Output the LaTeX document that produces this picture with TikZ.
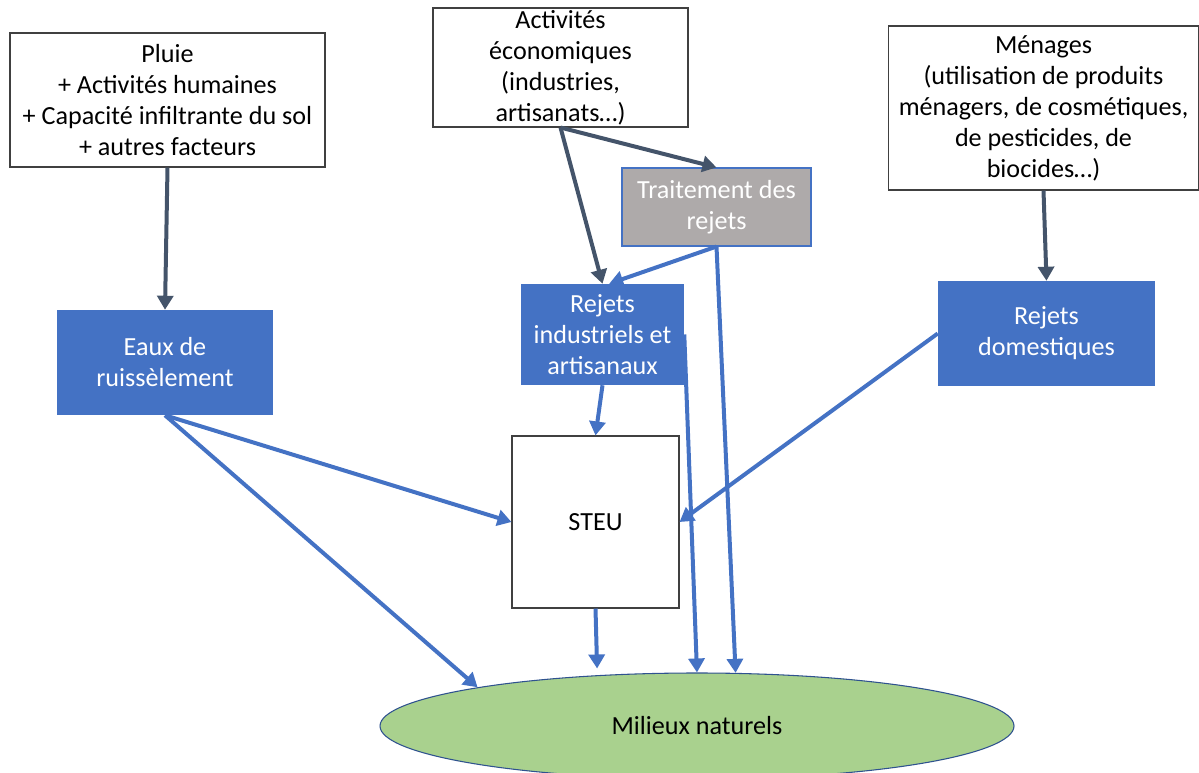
\documentclass[tikz,border=0pt]{standalone}
\usepackage{fontspec}
\setmainfont{Carlito}
\usetikzlibrary{shapes.geometric,arrows.meta}
\definecolor{boxblue}{HTML}{4472C4}
\definecolor{darkarrow}{HTML}{44546A}
\definecolor{graybox}{HTML}{AEAAAA}
\definecolor{greenfill}{HTML}{A9D18E}
\definecolor{edgeblue}{HTML}{2F528F}
\tikzset{
  txt/.style={font=\fontsize{19.6}{23.25}\selectfont, align=center, inner sep=0pt},
  whitebox/.style={txt, draw=black!75, line width=0.8pt, fill=white, rectangle},
  bluebox/.style={txt, fill=boxblue, text=white, rectangle},
  graynode/.style={txt, fill=graybox, draw=boxblue, line width=0.8pt, text=white, rectangle},
  ellnode/.style={txt, ellipse, fill=greenfill, draw=edgeblue, line width=0.8pt},
  darkarr/.style={draw=darkarrow, line width=3pt, -{Triangle[length=10.5pt,width=12pt]}},
  bluearr/.style={draw=boxblue, line width=3pt, -{Triangle[length=10.5pt,width=12pt]}},
}
\begin{document}
\begin{tikzpicture}[x=0.75pt,y=-0.75pt]
\useasboundingbox (0,0) rectangle (1199,773);
\node[whitebox, minimum width=236.25pt, minimum height=100.5pt] (pluie) at (167.5,100)
  {Pluie\\+ Activités humaines\\+ Capacité infiltrante du sol\\+ autres facteurs};
\node[whitebox, minimum width=191.25pt, minimum height=89.25pt] (activ) at (560.5,67.5)
  {Activités\\économiques\\(industries,\\artisanats…)};
\node[whitebox, minimum width=232pt, minimum height=123pt] (menages) at (1043.5,108)
  {Ménages\\(utilisation de produits\\ménagers, de cosmétiques,\\de pesticides, de\\biocides…)};
\node[graynode, minimum width=141.75pt, minimum height=58.5pt] (trait) at (716.5,207)
  {Traitement des\\rejets};
\node[bluebox, minimum width=122.25pt, minimum height=75.75pt] (rind) at (602.5,334.5)
  {Rejets\\industriels et\\artisanaux};
\node[bluebox, minimum width=162pt, minimum height=78.75pt] (eaux) at (165,362.5)
  {Eaux de\\ruissèlement};
\node[bluebox, minimum width=162.75pt, minimum height=78.75pt] (rdom) at (1046.5,333.5)
  {Rejets\\domestiques};
\node[whitebox, minimum width=125.25pt, minimum height=129pt] (steu) at (595.5,522)
  {STEU};
\node[ellnode, minimum width=475.5pt, minimum height=79.5pt] (mil) at (697,726)
  {Milieux naturels};

\draw[darkarr] (pluie.south) -- (eaux.north);
\draw[darkarr] (activ.south) -- (rind.north);
\draw[darkarr] (activ.south) -- (trait.north);
\draw[darkarr] (menages.south) -- (rdom.north);
\draw[bluearr] (trait.south) -- ([xshift=5pt]rind.north);
\draw[bluearr] (trait.south) -- (mil.54);
\draw[bluearr] (rind.east) -- (mil.90);
\draw[bluearr] (rind.south) -- (steu.north);
\draw[bluearr] (eaux.south) -- (steu.west);
\draw[bluearr] (eaux.south) -- (mil.170.4);
\draw[bluearr] (rdom.west) -- (steu.east);
\draw[bluearr, shorten >=5pt] (steu.south) -- (mil.153);
\end{tikzpicture}
\end{document}
